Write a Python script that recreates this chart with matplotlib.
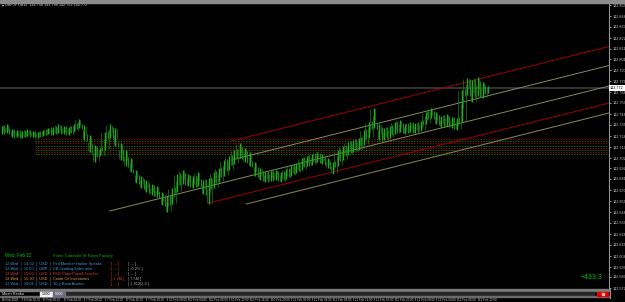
import matplotlib
matplotlib.use('Agg')
import matplotlib.pyplot as plt
from matplotlib.patches import Rectangle
from matplotlib.transforms import blended_transform_factory
import numpy as np

plt.rcParams['font.family'] = ['Liberation Sans', 'DejaVu Sans']

# ---------------- data ----------------
symbol_header = "GBPJPY,M15  142.758 142.788 142.752 142.772"

bar_highs = [142.734, 142.736, 142.731, 142.730, 142.729, 142.731, 142.729, 142.728, 142.730, 142.732,
             142.733, 142.736, 142.734, 142.733, 142.736, 142.741, 142.735, 142.725, 142.715, 142.712,
             142.728, 142.736, 142.732, 142.717, 142.710, 142.702, 142.690, 142.684, 142.680, 142.676,
             142.674, 142.668, 142.664, 142.672, 142.686, 142.690, 142.686, 142.684, 142.688, 142.680,
             142.682, 142.688, 142.692, 142.700, 142.704, 142.710, 142.717, 142.712, 142.708, 142.698,
             142.692, 142.688, 142.689, 142.690, 142.688, 142.691, 142.695, 142.697, 142.702, 142.704,
             142.706, 142.708, 142.706, 142.702, 142.698, 142.710, 142.714, 142.718, 142.720, 142.722,
             142.730, 142.738, 142.752, 142.736, 142.732, 142.734, 142.738, 142.740, 142.736, 142.738,
             142.737, 142.739, 142.748, 142.752, 142.748, 142.744, 142.746, 142.743, 142.742, 142.770,
             142.782, 142.780, 142.783, 142.778, 142.774]
bar_lows = [142.726, 142.727, 142.723, 142.723, 142.722, 142.724, 142.723, 142.722, 142.724, 142.726,
            142.725, 142.727, 142.726, 142.725, 142.728, 142.732, 142.720, 142.708, 142.698, 142.704,
            142.710, 142.722, 142.714, 142.700, 142.694, 142.688, 142.677, 142.672, 142.668, 142.665,
            142.663, 142.655, 142.648, 142.656, 142.668, 142.676, 142.674, 142.672, 142.674, 142.666,
            142.656, 142.672, 142.678, 142.684, 142.690, 142.696, 142.702, 142.698, 142.694, 142.684,
            142.680, 142.678, 142.679, 142.680, 142.678, 142.681, 142.684, 142.687, 142.690, 142.694,
            142.695, 142.698, 142.696, 142.692, 142.686, 142.694, 142.700, 142.705, 142.708, 142.710,
            142.715, 142.722, 142.732, 142.720, 142.720, 142.722, 142.726, 142.728, 142.726, 142.728,
            142.727, 142.729, 142.736, 142.742, 142.736, 142.733, 142.734, 142.732, 142.730, 142.738,
            142.765, 142.758, 142.764, 142.762, 142.767]

current_price = 142.772

price_ticks = [142.855, 142.844, 142.833, 142.822, 142.811, 142.801, 142.790, 142.779, 142.768,
               142.757, 142.746, 142.735, 142.724, 142.713, 142.702, 142.692, 142.681, 142.670,
               142.659, 142.648, 142.637, 142.626, 142.615, 142.604, 142.593, 142.583, 142.572]

time_tick_bars = [0, 4, 8, 12, 16, 20, 24, 28, 32, 36, 40, 44, 48, 52, 56, 60, 64, 68, 72, 76, 80, 84, 88, 92]
time_tick_labels = ["6 Feb 2020", "6 Feb 20:00", "7 Feb 00:00", "7 Feb 04:00", "7 Feb 08:00",
                    "7 Feb 12:00", "7 Feb 16:00", "7 Feb 20:00", "10 Feb 00:00", "10 Feb 04:00",
                    "10 Feb 08:00", "10 Feb 12:00", "10 Feb 16:00", "10 Feb 20:00", "11 Feb 00:00",
                    "11 Feb 04:00", "11 Feb 08:00", "11 Feb 12:00", "11 Feb 16:00", "11 Feb 20:00",
                    "12 Feb 00:00", "12 Feb 04:00", "12 Feb 08:00", "12 Feb 12:00"]

# trend / channel lines: start bar, start price, end bar, end price
chan_x0 = [44.4, 44.4, 20.9, 40.0, 47.3]
chan_y0 = [142.719, 142.700, 142.649, 142.657, 142.656]
chan_x1 = [117.4, 117.4, 117.4, 117.4, 117.4]
chan_y1 = [142.8135, 142.7945, 142.774, 142.757, 142.747]
chan_col = ['#a00000', '#8a8a5c', '#8a8a5c', '#a00000', '#8a8a5c']

# dotted horizontal levels
level_prices = [142.721, 142.719, 142.7167, 142.7143, 142.7123, 142.710, 142.7077, 142.7057]
level_cols = ['#9a0000', '#007a00', '#9a0000', '#007a00', '#9a0000', '#007a00', '#9a0000', '#007a00']
level_start_bar = 6.4

cal_date = "Wed, Feb 12"
cal_title = "Forex Calendar @ Forex Factory"
cal_rows = ["12 Wed  |  14:30  |  USD  |  Fed Member Harker Speaks",
            "12 Wed  |  15:00  |  GBP  |  CB Leading Index m/m",
            "12 Wed  |  15:00  |  USD  |  FED Chair Powell Testifies",
            "12 Wed  |  15:30  |  USD  |  Crude Oil Inventories",
            "12 Wed  |  18:01  |  USD  |  10-y Bond Auction"]
cal_actual = ["[ --- ]", "[ --- ]", "[ --- ]", "[ 3.2M ]", "[ --- ]"]
cal_prev = ["[ --- ]", "[ -0.2% ]", "[ --- ]", "[ 7.5M ]", "[ 1.812|2.4 ]"]
cal_cols = ['#3d9ad6', '#3d9ad6', '#e03a3a', '#e0a030', '#3d9ad6']
profit_text = "+433.3"

# ---------------- figure ----------------
W, H = 625, 302
fig = plt.figure(figsize=(W / 100, H / 100), dpi=100, facecolor='black')


def rect(x0, y0, x1, y1):
    return [x0 / W, 1 - y1 / H, (x1 - x0) / W, (y1 - y0) / H]


def fx(x):
    return x / W


def fy(y):
    return 1 - y / H


ax = fig.add_axes(rect(0, 3, 609, 289))
ax.set_facecolor('black')
ax.set_xlim(-0.3, 117.4)
ax.set_ylim(142.571, 142.857)
for s in ['top', 'left', 'bottom']:
    ax.spines[s].set_visible(False)
ax.spines['right'].set_color('#9a9a9a')
ax.spines['right'].set_linewidth(0.7)
ax.set_xticks([])
ax.yaxis.tick_right()
ax.set_yticks(price_ticks)
ax.set_yticklabels([f"{p:.3f}" for p in price_ticks])
ax.tick_params(axis='y', colors='#c8c8c8', labelsize=2.7, length=1.5, width=0.5, pad=1)

# dotted levels
for p, c in zip(level_prices, level_cols):
    ax.plot([level_start_bar, 117.4], [p, p], color=c, lw=0.8, ls=(0, (1.2, 1.2)))

# current price line
ax.axhline(current_price, color='#3c3c3c', lw=1.2)

# channel lines
for x0, y0, x1, y1, c in zip(chan_x0, chan_y0, chan_x1, chan_y1, chan_col):
    ax.plot([x0, x1], [y0, y1], color=c, lw=0.7)

# price bars
n = len(bar_highs)
xb = np.arange(n)
hi = np.array(bar_highs)
lo = np.array(bar_lows)
ax.vlines(xb, lo, hi, color='#22a822', lw=1.0)
ax.vlines(xb[:-1] + 0.5, np.maximum(lo[:-1], lo[1:]) - 0.001, np.minimum(hi[:-1], hi[1:]) + 0.001,
          color='#1a8a1a', lw=0.7)
ax.vlines(xb[:-1] + 0.25, (lo[:-1] + hi[:-1]) / 2 - 0.002, np.maximum(hi[:-1], hi[1:]) - 0.001,
          color='#168016', lw=0.5)
ax.vlines(xb[:-1] + 0.75, np.minimum(lo[:-1], lo[1:]) + 0.001, (lo[1:] + hi[1:]) / 2 + 0.002,
          color='#168016', lw=0.5)

# current price box
tr = blended_transform_factory(fig.transFigure, ax.transData)
ax.text(fx(610), current_price, f"{current_price:.3f}", transform=tr, fontsize=2.7, color='black',
        va='center', ha='left',
        bbox=dict(boxstyle='square,pad=0.25', fc='white', ec='none'))

# header
fig.patches.append(Rectangle((0, fy(2.5)), 1, 2.5 / H, transform=fig.transFigure,
                             color='#8c8c8c', zorder=5))
fig.text(fx(1.5), fy(4.8), "\u25be", fontsize=2.8, color='#d0d0d0', va='center', ha='left',
         family=['DejaVu Sans'])
fig.text(fx(5), fy(4.8), symbol_header, fontsize=2.7, color='#d0d0d0', va='center', ha='left')

# calendar
fig.text(fx(5), fy(255), cal_date, fontsize=3.3, color='#00c000', va='center', ha='left')
fig.text(fx(53), fy(256), cal_title, fontsize=3.0, color='#00c000', va='center', ha='left')
row_y = [264.3, 269.0, 273.7, 278.7, 283.7]
for yy, txt, a, b, c in zip(row_y, cal_rows, cal_actual, cal_prev, cal_cols):
    fig.text(fx(5), fy(yy), txt, fontsize=2.8, color=c, va='center', ha='left')
    fig.text(fx(111), fy(yy), a, fontsize=2.8, color='#e03a3a', va='center', ha='left')
    fig.text(fx(128), fy(yy), b, fontsize=2.8, color='#a8a8a8', va='center', ha='left')

fig.text(fx(603), fy(277.5), profit_text, fontsize=5, color='#00c000', va='center', ha='right')

# sub window (Mean Renko)
fig.patches.append(Rectangle((0, fy(291)), fx(609), 2 / H, transform=fig.transFigure,
                             color='#7a7a7a', zorder=3))
fig.patches.append(Rectangle((fx(65), fy(295)), fx(594 - 65), 3 / H, transform=fig.transFigure,
                             color='#262626', zorder=3))
fig.patches.append(Rectangle((0, fy(296.5)), fx(609), 0.9 / H, transform=fig.transFigure,
                             color='#6a6a6a', zorder=3))
fig.text(fx(2), fy(293.6), "Mean Renko", fontsize=2.8, color='#e0e0e0', va='center', ha='left', zorder=6)
fig.patches.append(Rectangle((fx(40), fy(296)), fx(12), 4.5 / H, transform=fig.transFigure,
                             color='#f0f0f0', zorder=4))
fig.text(fx(46), fy(293.8), "1.000", fontsize=2.4, color='black', va='center', ha='center', zorder=6)
fig.patches.append(Rectangle((fx(53), fy(296)), fx(12), 4.5 / H, transform=fig.transFigure,
                             color='#6a6a80', zorder=4))
fig.text(fx(59), fy(293.8), "0.000", fontsize=2.4, color='white', va='center', ha='center', zorder=6)
fig.patches.append(Rectangle((fx(597), fy(296)), fx(11), 4.5 / H, transform=fig.transFigure,
                             color='#e00000', zorder=4))
fig.patches.append(Rectangle((fx(601.5), fy(295)), fx(2), 2.5 / H, transform=fig.transFigure,
                             color='#ffb0b0', zorder=5))
fig.add_artist(plt.Line2D([fx(609.5), fx(609.5)], [fy(289), fy(298)], transform=fig.transFigure,
                          color='#9a9a9a', lw=0.7))

# time axis labels
trx = blended_transform_factory(ax.transData, fig.transFigure)
for b, lab in zip(time_tick_bars, time_tick_labels):
    fig.add_artist(plt.Line2D([b, b], [fy(297), fy(299.5)], transform=trx, color='#b0b0b0', lw=0.4))
    fig.text(b + 0.3, fy(299.8), lab, transform=trx, fontsize=2.2, color='#c8c8c8',
             va='center', ha='left')

fig.savefig('out.png', dpi=100, facecolor='black')
